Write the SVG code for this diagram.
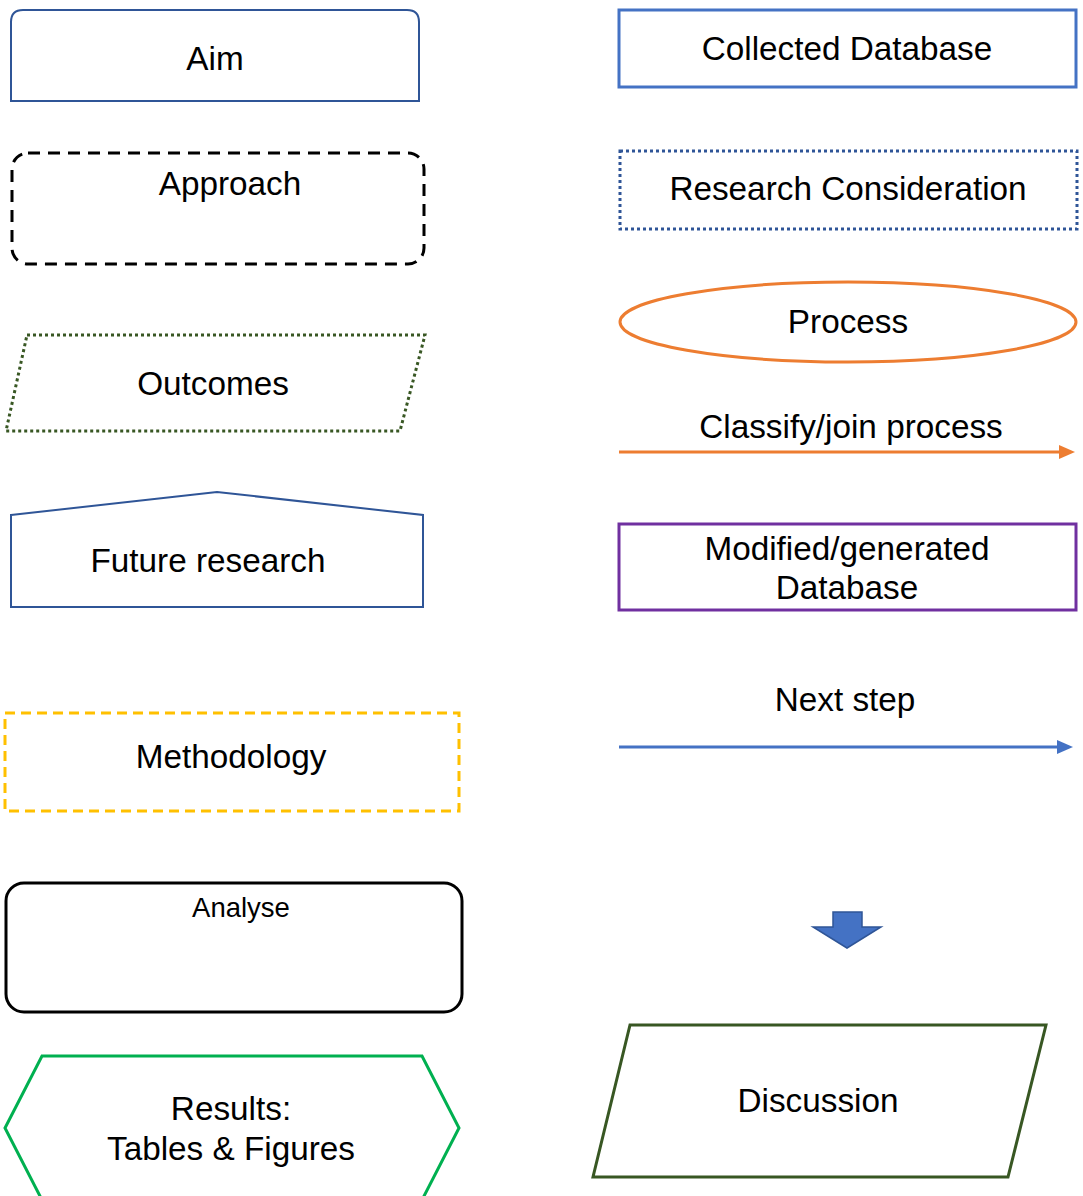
<svg xmlns="http://www.w3.org/2000/svg" width="1083" height="1196" viewBox="0 0 1083 1196">
  <style>
    text { font-family: "Liberation Sans", Arial, sans-serif; font-size: 33.3px; fill: #000; text-anchor: middle; }
    .small { font-size: 27.5px; }
    .shape { fill: #fff; }
  </style>
  <defs>
    <marker id="headOrange" markerWidth="16" markerHeight="14" refX="2" refY="7" orient="auto" markerUnits="userSpaceOnUse" viewBox="0 0 16 14">
      <path d="M0,0 L16,7 L0,14 Z" fill="#ED7D31"/>
    </marker>
    <marker id="headBlue" markerWidth="16" markerHeight="14" refX="2" refY="7" orient="auto" markerUnits="userSpaceOnUse" viewBox="0 0 16 14">
      <path d="M0,0 L16,7 L0,14 Z" fill="#4472C4"/>
    </marker>
  </defs>
  <rect width="1083" height="1196" fill="#fff"/>

  <!-- left column -->
  <g id="aim">
    <path class="shape" d="M11,101 V22 Q11,10 23,10 H407 Q419,10 419,22 V101 Z" stroke="#2F5597" stroke-width="2"/>
    <text x="215" y="70">Aim</text>
  </g>
  <g id="approach">
    <rect class="shape" x="12" y="153" width="412" height="111" rx="16" stroke="#000" stroke-width="3" stroke-dasharray="12 8"/>
    <text x="230" y="195">Approach</text>
  </g>
  <g id="outcomes">
    <polygon class="shape" points="27,335 425,335 400,431 6,431" stroke="#385723" stroke-width="3" stroke-dasharray="3 3"/>
    <text x="213" y="395">Outcomes</text>
  </g>
  <g id="future-research">
    <polygon class="shape" points="11,515 217,492 423,515 423,607 11,607" stroke="#2F5597" stroke-width="2"/>
    <text x="208" y="572">Future research</text>
  </g>
  <g id="methodology">
    <rect class="shape" x="5" y="713" width="454" height="98" stroke="#FFC000" stroke-width="3" stroke-dasharray="10 6"/>
    <text x="231" y="768">Methodology</text>
  </g>
  <g id="analyse">
    <rect class="shape" x="6" y="883" width="456" height="129" rx="18" stroke="#000" stroke-width="3"/>
    <text class="small" x="241" y="917">Analyse</text>
  </g>
  <g id="results">
    <polygon class="shape" points="42,1056 422,1056 459,1128 422,1200 42,1200 5,1128" stroke="#00B050" stroke-width="3"/>
    <text x="231" y="1120">Results:</text>
    <text x="231" y="1160">Tables &amp; Figures</text>
  </g>

  <!-- right column -->
  <g id="collected-database">
    <rect class="shape" x="619" y="10" width="457" height="77" stroke="#4472C4" stroke-width="3"/>
    <text x="847" y="60">Collected Database</text>
  </g>
  <g id="research-consideration">
    <rect class="shape" x="620" y="151" width="457" height="78" stroke="#2F5597" stroke-width="3" stroke-dasharray="3 3"/>
    <text x="848" y="200">Research Consideration</text>
  </g>
  <g id="process">
    <ellipse class="shape" cx="848" cy="322" rx="228" ry="40" stroke="#ED7D31" stroke-width="3"/>
    <text x="848" y="333">Process</text>
  </g>
  <g id="classify-label">
    <text x="851" y="438">Classify/join process</text>
  </g>
  <g id="modified-database">
    <rect class="shape" x="619" y="524" width="457" height="86" stroke="#7030A0" stroke-width="3"/>
    <text x="847" y="560">Modified/generated</text>
    <text x="847" y="599">Database</text>
  </g>
  <g id="next-step-label">
    <text x="845" y="711">Next step</text>
  </g>
  <g id="discussion">
    <polygon class="shape" points="630,1025 1046,1025 1008,1177 593,1177" stroke="#385723" stroke-width="3"/>
    <text x="818" y="1112">Discussion</text>
  </g>

  <!-- connectors -->
  <g id="connectors">
    <line x1="619" y1="452" x2="1061" y2="452" stroke="#ED7D31" stroke-width="3" marker-end="url(#headOrange)"/>
    <line x1="619" y1="747" x2="1059" y2="747" stroke="#4472C4" stroke-width="3" marker-end="url(#headBlue)"/>
    <path d="M833,912 H862 V927 H881 L847,948 L813,927 H833 Z" fill="#4472C4" stroke="#2F5597" stroke-width="1.5"/>
  </g>
</svg>
